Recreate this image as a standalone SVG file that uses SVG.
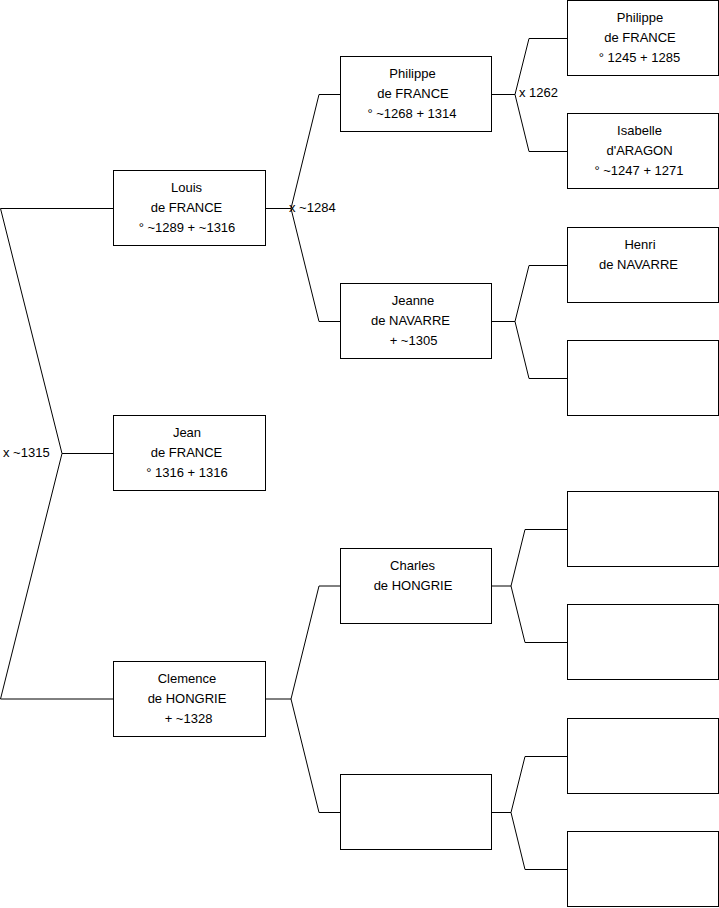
<svg xmlns="http://www.w3.org/2000/svg" width="719" height="908" viewBox="0 0 719 908">
<style>
.box{fill:#fff;stroke:#000;stroke-width:1}
.ln{fill:none;stroke:#000;stroke-width:1}
text{font-family:"Liberation Sans",Arial,sans-serif;font-size:13px;fill:#000}
.c{text-anchor:middle}
</style>
<rect width="719" height="908" fill="#fff"/>
<g id="connectors">
<polyline class="ln" points="114,208.5 0.5,208.5 62,453.5 0.5,699 114,699"/>
<line class="ln" x1="62" y1="453.5" x2="114" y2="453.5"/>
<polyline class="ln" points="265,208.5 291,208.5"/>
<polyline class="ln" points="341,94.5 319,94.5 291,208.5 319,321.5 341,321.5"/>
<polyline class="ln" points="491,94.5 515,94.5"/>
<polyline class="ln" points="567,38.5 529,38.5 515,94.5 529,151.5 567,151.5"/>
<polyline class="ln" points="491,321.5 515,321.5"/>
<polyline class="ln" points="567,265.5 529,265.5 515,321.5 529,378.5 567,378.5"/>
<polyline class="ln" points="265,699 291,699"/>
<polyline class="ln" points="341,586 319,586 291,699 319,812.5 341,812.5"/>
<polyline class="ln" points="491,586 511,586"/>
<polyline class="ln" points="567,529.5 525,529.5 511,586 525,642.5 567,642.5"/>
<polyline class="ln" points="491,812.5 511,812.5"/>
<polyline class="ln" points="567,756.5 525,756.5 511,812.5 525,869.5 567,869.5"/>
<text x="289" y="211.5">x ~1284</text>
<text x="519" y="96.5">x 1262</text>
<text x="3" y="456.5">x ~1315</text>
</g>
<g id="louis">
<rect class="box" x="113.5" y="170.5" width="152" height="75"/>
<text class="c" x="186.5" y="191.5">Louis</text>
<text class="c" x="186.5" y="211.5">de FRANCE</text>
<text class="c" x="187" y="231.5">° ~1289 + ~1316</text>
</g>
<g id="jean">
<rect class="box" x="113.5" y="415.5" width="152" height="75"/>
<text class="c" x="187" y="437">Jean</text>
<text class="c" x="186.5" y="457">de FRANCE</text>
<text class="c" x="187" y="477">° 1316 + 1316</text>
</g>
<g id="clemence">
<rect class="box" x="113.5" y="661.5" width="152" height="75"/>
<text class="c" x="187" y="682.5">Clemence</text>
<text class="c" x="187" y="702.5">de HONGRIE</text>
<text class="c" x="188.5" y="722.5">+ ~1328</text>
</g>
<g id="philippe4">
<rect class="box" x="340.5" y="56.5" width="151" height="75"/>
<text class="c" x="412.5" y="77.5">Philippe</text>
<text class="c" x="413" y="97.5">de FRANCE</text>
<text class="c" x="412" y="117.5">° ~1268 + 1314</text>
</g>
<g id="jeanne">
<rect class="box" x="340.5" y="283.5" width="151" height="75"/>
<text class="c" x="413" y="304.5">Jeanne</text>
<text class="c" x="410.5" y="324.5">de NAVARRE</text>
<text class="c" x="413.5" y="344.5">+ ~1305</text>
</g>
<g id="charles">
<rect class="box" x="340.5" y="548.5" width="151" height="75"/>
<text class="c" x="412.5" y="569.5">Charles</text>
<text class="c" x="413" y="589.5">de HONGRIE</text>
</g>
<g id="empty2">
<rect class="box" x="340.5" y="774.5" width="151" height="75"/>
</g>
<g id="philippe3">
<rect class="box" x="567.5" y="0.5" width="151" height="75"/>
<text class="c" x="640" y="21.5">Philippe</text>
<text class="c" x="640" y="41.5">de FRANCE</text>
<text class="c" x="639.5" y="61.5">° 1245 + 1285</text>
</g>
<g id="isabelle">
<rect class="box" x="567.5" y="113.5" width="151" height="75"/>
<text class="c" x="639.5" y="134.5">Isabelle</text>
<text class="c" x="639.5" y="154.5">d'ARAGON</text>
<text class="c" x="639" y="174.5">° ~1247 + 1271</text>
</g>
<g id="henri">
<rect class="box" x="567.5" y="227.5" width="151" height="75"/>
<text class="c" x="640" y="248.5">Henri</text>
<text class="c" x="638.5" y="268.5">de NAVARRE</text>
</g>
<g id="empty3a">
<rect class="box" x="567.5" y="340.5" width="151" height="75"/>
</g>
<g id="empty3b">
<rect class="box" x="567.5" y="491.5" width="151" height="75"/>
</g>
<g id="empty3c">
<rect class="box" x="567.5" y="604.5" width="151" height="75"/>
</g>
<g id="empty3d">
<rect class="box" x="567.5" y="718.5" width="151" height="75"/>
</g>
<g id="empty3e">
<rect class="box" x="567.5" y="831.5" width="151" height="75"/>
</g>
</svg>
